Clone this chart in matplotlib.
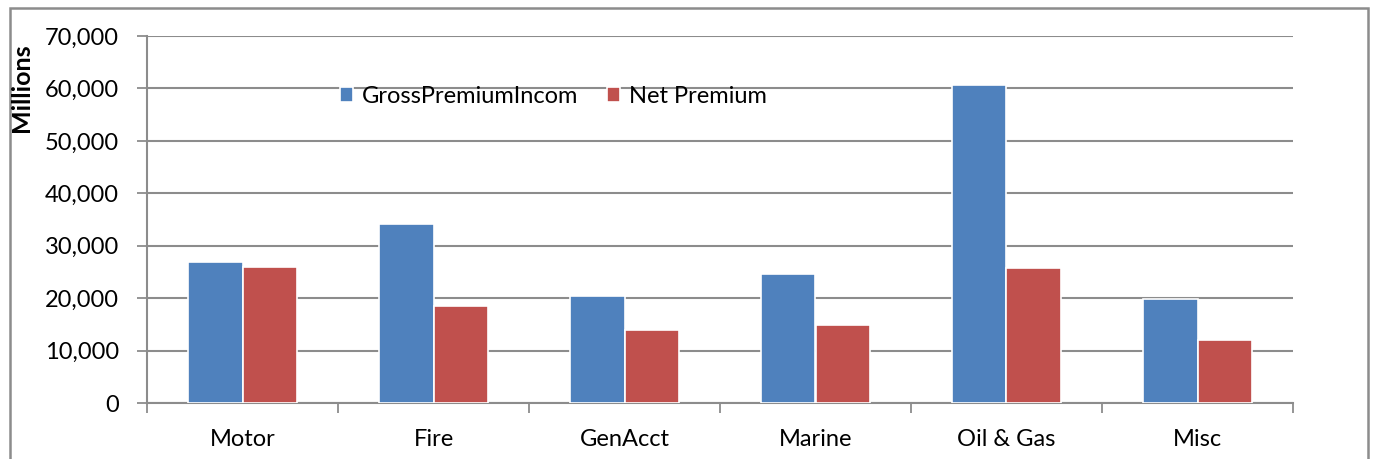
import numpy as np
import matplotlib.pyplot as plt
from matplotlib.patches import Rectangle
from matplotlib.ticker import FuncFormatter, MultipleLocator

plt.rcParams['font.family'] = ['Lato', 'DejaVu Sans']

categories = ['Motor', 'Fire', 'GenAcct', 'Marine', 'Oil & Gas', 'Misc']
gross_premium = [26900, 34200, 20400, 24600, 60600, 19800]
net_premium = [25900, 18500, 13900, 14900, 25700, 12000]

blue = '#4f81bd'
red = '#c0504d'
grid_col = '#8c8c8c'

W, H = 1376, 459
fig = plt.figure(figsize=(W / 100, H / 100), dpi=100)
ax = fig.add_axes([147 / W, 1 - 403 / H, (1293 - 147) / W, (403 - 36) / H])

x = np.arange(len(categories))
bw = 0.283
ax.bar(x - bw / 2, gross_premium, bw, color=blue, edgecolor='white', linewidth=1.2,
       label='GrossPremiumIncom', zorder=3)
ax.bar(x + bw / 2, net_premium, bw, color=red, edgecolor='white', linewidth=1.2,
       label='Net Premium', zorder=3)

ax.set_xlim(-0.5, len(categories) - 0.5)
ax.set_ylim(0, 70000)
ax.yaxis.set_major_locator(MultipleLocator(10000))
ax.yaxis.set_major_formatter(FuncFormatter(lambda v, p: f'{int(v):,}'))
ax.grid(axis='y', color=grid_col, linewidth=1.5, zorder=0)

# category labels centred, ticks on the boundaries between groups
ax.set_xticks(x)
ax.set_xticklabels(categories, fontsize=17)
ax.set_xticks(np.arange(-0.5, len(categories)), minor=True)
ax.tick_params(axis='x', which='major', length=0, pad=19)
ax.tick_params(axis='x', which='minor', length=7, width=1.3, color=grid_col)
ax.tick_params(axis='y', length=7, width=1.3, color=grid_col, labelsize=17, pad=13)

for s in ['top', 'right']:
    ax.spines[s].set_visible(False)
for s in ['left', 'bottom']:
    ax.spines[s].set_color(grid_col)
    ax.spines[s].set_linewidth(1.5)

ax.legend(loc='upper left', bbox_to_anchor=(0.16, 0.89), ncol=2, frameon=False,
          fontsize=17, handlelength=0.55, handleheight=0.55, handletextpad=0.4,
          columnspacing=1.2, borderaxespad=0)

fig.text(22 / W, 1 - 88 / H, 'Millions', rotation=90, fontsize=18, fontweight='bold',
         ha='center', va='center')

# outer chart border
fig.patches.append(Rectangle((10 / W, -0.05), (1368 - 10) / W, 1.05 - 8 / H,
                             transform=fig.transFigure, fill=False,
                             edgecolor='#8c8c8c', linewidth=1.8))

fig.savefig('out.png', dpi=100)
